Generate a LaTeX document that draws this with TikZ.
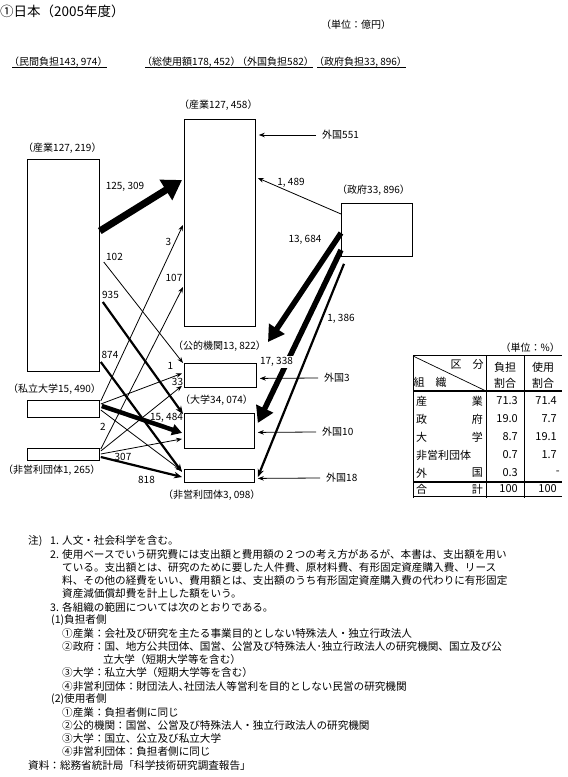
\documentclass[tikz,border=0pt]{standalone}
\usepackage{fontspec}
\setmainfont{Noto Sans CJK JP}
\usetikzlibrary{arrows.meta,calc}
\begin{document}
\begin{tikzpicture}[x=1pt,y=-1pt,
  box/.style={draw,line width=0.8pt,inner sep=0pt,anchor=north west},
  lbl/.style={font=\fontsize{10}{11}\selectfont,inner sep=0pt,anchor=west},
  num/.style={font=\fontsize{10}{11}\selectfont,inner sep=0pt},
  tar/.style={line width=0.8pt,-{Stealth[length=6pt,width=4.5pt]}},
  mar/.style={line width=2.2pt,-{Stealth[length=8pt,width=6.5pt]}},
  uar/.style={line width=4.5pt,-{Triangle[length=10pt,width=11pt]}},
  far/.style={line width=5.5pt,-{Triangle[length=16pt,width=18pt]}},
  har/.style={line width=7pt,-{Triangle[length=19pt,width=23pt]}},
  frn/.style={font=\fontsize{10}{11}\selectfont,anchor=west,inner xsep=6pt,inner ysep=0pt},
  note/.style={font=\fontsize{10.6}{12}\selectfont,anchor=west,inner sep=0pt},
  tab/.style={font=\fontsize{11}{12}\selectfont,inner sep=0pt},
]
\fill[white] (0,0) rectangle (568,777);
\useasboundingbox (0,0) rectangle (568,777);

% header
\node[font=\fontsize{13.5}{15}\selectfont,inner sep=0pt,anchor=west] (title) at (0,11) {①日本（2005年度）};
\node[lbl] (unit) at (321,25) {（単位：億円）};
\node[lbl] (T1) at (9,62) {（民間負担143, 974）};
\node[lbl] (T2) at (142,62) {（総使用額178, 452）};
\node[lbl] (T3) at (237,62) {（外国負担582）};
\node[lbl] (T4) at (314,62) {（政府負担33, 896）};
\foreach \t in {T1,T2,T3,T4}{\draw[line width=0.7pt] ($(\t.west)+(3,5.5)$) -- ($(\t.east)+(-1,5.5)$);}

% boxes
\node[box,minimum width=72pt,minimum height=212pt] (LInd) at (27,159) {};
\node[box,minimum width=72pt,minimum height=17pt] (LUni) at (27,400) {};
\node[box,minimum width=72pt,minimum height=12pt] (LNpo) at (27,448) {};
\node[box,minimum width=71pt,minimum height=207pt] (MInd) at (184,119) {};
\node[box,minimum width=72pt,minimum height=24pt] (MPub) at (184,363) {};
\node[box,minimum width=70pt,minimum height=35pt] (MUni) at (184,413) {};
\node[box,minimum width=70pt,minimum height=13pt] (MNpo) at (184,469) {};
\node[box,minimum width=71pt,minimum height=53pt] (Gov) at (341,203) {};

% box labels
\node[lbl] (LIndL) at (23,148) {（産業127, 219）};
\node[lbl] (MIndL) at (179,105) {（産業127, 458）};
\node[lbl] (GovL) at (337,190) {（政府33, 896）};
\node[lbl] (MPubL) at (173,346) {（公的機関13, 822）};
\node[lbl] (LUniL) at (8,389) {（私立大学15, 490）};
\node[lbl] (LNpoL) at (3,470) {（非営利団体1, 265）};
\node[lbl] (MUniL) at (180,400) {（大学34, 074）};
\node[lbl] (MNpoL) at (163,495) {（非営利団体3, 098）};

% foreign sources
\node[frn] (F551) at (316,135) {外国551};
\node[frn] (F3) at (318,378) {外国3};
\node[frn] (F10) at (316,432) {外国10};
\node[frn] (F18) at (320,478) {外国18};

\coordinate (G1end) at (268,342);

% arrows from industry
\draw[har] ($(LInd.north east)+(0,72)$) -- ($(MInd.north west)+(-2,61)$);
\draw[tar] ($(LInd.north east)+(4,103)$) -- ($(MPub.north west)+(-1,0)$);
\draw[mar] ($(LInd.north east)+(3,143)$) -- ($(MUni.north west)+(-1,1)$);
\draw[mar] ($(LInd.north east)+(1,203)$) -- ($(MNpo.north west)+(-2,3)$);
% arrows from private universities
\draw[tar] ($(LUni.north east)+(1,1)$) -- ($(MInd.north west)+(-1,106)$);
\draw[tar] ($(LUni.north east)+(1,4)$) -- ($(MPub.west)+(-2,-2)$);
\draw[uar] ($(LUni.north east)+(2,6)$) -- ($(MUni.west)+(-2,2)$);
\draw[tar] ($(LUni.north east)+(1,10)$) -- ($(MNpo.north west)+(-2,2)$);
% arrows from NPO
\draw[tar] ($(LNpo.north east)+(1,1)$) -- ($(MInd.north west)+(-1,168)$);
\draw[tar] ($(LNpo.north east)+(1,3)$) -- ($(MPub.south west)+(-2,-2)$);
\draw[tar] ($(LNpo.north east)+(1,6)$) -- ($(MUni.west)+(-2,8)$);
\draw[mar] ($(LNpo.north east)+(1,9)$) -- ($(MNpo.north west)+(-2,8)$);
% arrows from government
\draw[tar] ($(Gov.north west)+(0,11)$) -- ($(MInd.north east)+(2,59)$);
\draw[far] ($(Gov.north west)+(0,30)$) -- (G1end);
\draw[far] ($(Gov.north west)+(0,47)$) -- ($(MUni.north east)+(3,10)$);
\draw[mar] ($(Gov.south west)+(3,7)$) -- ($(MNpo.north east)+(3,8)$);
% arrows from abroad
\draw[tar] (F551.west) -- ($(MInd.north east)+(3,16)$);
\draw[tar] (F3.west) -- ($(MPub.east)+(3,3)$);
\draw[tar] (F10.west) -- ($(MUni.east)+(3,1.5)$);
\draw[tar] (F18.west) -- ($(MNpo.east)+(3,2.5)$);

% flow values
\node[num] (v1) at (125,187) {125, 309};
\node[num] (v2) at (114.5,257) {102};
\node[num] (v3) at (110.5,295) {935};
\node[num] (v4) at (110,355) {874};
\node[num] (v5) at (168.5,242) {3};
\node[num] (v6) at (174,278) {107};
\node[num] (v7) at (170.5,366) {1};
\node[num] (v8) at (177.5,382) {33};
\node[num] (v9) at (103,427) {2};
\node[num] (v10) at (166.5,418) {15, 484};
\node[num] (v11) at (123,457) {307};
\node[num] (v12) at (146.5,480) {818};
\node[num] (v13) at (291,183) {1, 489};
\node[num] (v14) at (305,240) {13, 684};
\node[num,fill=white,inner sep=1.5pt] (v15) at (276.5,362) {17, 338};
\node[num] (v16) at (341,319) {1, 386};

% table
\node[lbl,anchor=east] (tunit) at (560,348) {（単位：\%）};
\draw[line width=0.8pt] (413,355) -- (562,355);
\draw[line width=0.8pt] (413,355) -- (413,498) (486,355) -- (486,498) (524,355) -- (524,498);
\draw[line width=0.7pt] (413,356) -- (486,391);
\draw[line width=1.8pt] (413,391) -- (562,391);
\draw[line width=1.8pt] (413,482) -- (562,482);
\draw[line width=0.8pt] (413,496) -- (562,496);
\node[tab] (h1) at (467,364) {区　分};
\node[tab] (h2) at (430,382) {組　織};
\node[tab] (h3) at (505,367) {負担};
\node[tab] (h4) at (505,383) {割合};
\node[tab] (h5) at (543,367) {使用};
\node[tab] (h6) at (543,383) {割合};
\node[tab,anchor=west] (r1a) at (416,401) {産};
\node[tab,anchor=east] (r1b) at (483,401) {業};
\node[tab,anchor=west] (r2a) at (416,419) {政};
\node[tab,anchor=east] (r2b) at (483,419) {府};
\node[tab,anchor=west] (r3a) at (416,437) {大};
\node[tab,anchor=east] (r3b) at (483,437) {学};
\node[tab,anchor=west] (r4a) at (416,455) {非営利団体};
\node[tab,anchor=west] (r5a) at (416,473) {外};
\node[tab,anchor=east] (r5b) at (483,473) {国};
\node[tab,anchor=west] (r6a) at (416,489) {合};
\node[tab,anchor=east] (r6b) at (483,489) {計};
\node[tab,anchor=east] (c11) at (518,401) {71.3};
\node[tab,anchor=east] (c12) at (518,419) {19.0};
\node[tab,anchor=east] (c13) at (518,437) {8.7};
\node[tab,anchor=east] (c14) at (518,455) {0.7};
\node[tab,anchor=east] (c15) at (518,473) {0.3};
\node[tab,anchor=east] (c16) at (518,489) {100};
\node[tab,anchor=east] (c21) at (557,401) {71.4};
\node[tab,anchor=east] (c22) at (557,419) {7.7};
\node[tab,anchor=east] (c23) at (557,437) {19.1};
\node[tab,anchor=east] (c24) at (557,455) {1.7};
\node[tab,anchor=east] (c25) at (560,473) {-};
\node[tab,anchor=east] (c26) at (557,489) {100};

% notes
\node[note] (n1) at (28,541) {\makebox[22pt][l]{注)}\makebox[12pt][l]{1.}人文・社会科学を含む。};
\node[note] (n2) at (50,554) {\makebox[12pt][l]{2.}使用ベースでいう研究費には支出額と費用額の２つの考え方があるが、本書は、支出額を用い};
\node[note] (n3) at (62,567) {ている。支出額とは、研究のために要した人件費、原材料費、有形固定資産購入費、リース};
\node[note] (n4) at (62,580) {料、その他の経費をいい、費用額とは、支出額のうち有形固定資産購入費の代わりに有形固定};
\node[note] (n5) at (62,593) {資産減価償却費を計上した額をいう。};
\node[note] (n6) at (50,607) {\makebox[12pt][l]{3.}各組織の範囲については次のとおりである。};
\node[note] (n7) at (51,620) {\makebox[13pt][l]{(1)}負担者側};
\node[note] (n8) at (62,633) {①産業：会社及び研究を主たる事業目的としない特殊法人・独立行政法人};
\node[note] (n9) at (62,646) {②政府：国、地方公共団体、国営、公営及び特殊法人･独立行政法人の研究機関、国立及び公};
\node[note] (n10) at (103,659) {立大学（短期大学等を含む）};
\node[note] (n11) at (62,672) {③大学：私立大学（短期大学等を含む）};
\node[note] (n12) at (62,686) {④非営利団体：財団法人､社団法人等営利を目的としない民営の研究機関};
\node[note] (n13) at (51,699) {\makebox[13pt][l]{(2)}使用者側};
\node[note] (n14) at (62,712) {①産業：負担者側に同じ};
\node[note] (n15) at (62,725) {②公的機関：国営、公営及び特殊法人・独立行政法人の研究機関};
\node[note] (n16) at (62,738) {③大学：国立、公立及び私立大学};
\node[note] (n17) at (62,751) {④非営利団体：負担者側に同じ};
\node[note] (n18) at (28,765) {資料：総務省統計局「科学技術研究調査報告」};
\end{tikzpicture}
\end{document}
